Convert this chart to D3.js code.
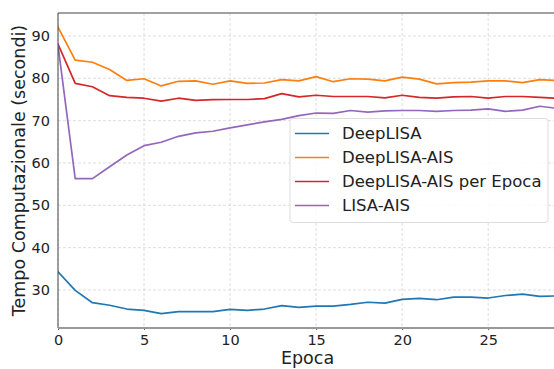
<!DOCTYPE html>
<html>
<head>
<meta charset="utf-8">
<script src="https://cdn.jsdelivr.net/npm/d3@7"></script>
<style>
  html, body { margin: 0; padding: 0; background: #fff; }
  svg { display: block; font-family: "DejaVu Sans", sans-serif; }
</style>
</head>
<body>
<svg id="chart" width="554" height="369"></svg>
<script>
// Computation time per epoch for each method
const epochs = d3.range(0, 30);
const deepLISA = [34.3, 29.9, 27.0, 26.4, 25.5, 25.2, 24.4, 24.9, 24.9, 24.9,
                  25.4, 25.2, 25.5, 26.3, 25.9, 26.2, 26.2, 26.6, 27.1, 26.9,
                  27.8, 28.0, 27.7, 28.3, 28.3, 28.1, 28.7, 29.0, 28.5, 28.6];
const deepLISAAIS = [92.1, 84.3, 83.8, 82.1, 79.5, 79.9, 78.2, 79.3, 79.4, 78.6,
                     79.4, 78.8, 78.9, 79.7, 79.4, 80.4, 79.2, 79.9, 79.8, 79.4,
                     80.3, 79.8, 78.7, 79.0, 79.1, 79.4, 79.4, 79.0, 79.7, 79.5];
const deepLISAAISEpoca = [88.1, 78.8, 78.0, 75.9, 75.5, 75.3, 74.6, 75.3, 74.8, 74.95,
                          75.0, 75.0, 75.2, 76.4, 75.6, 76.0, 75.7, 75.7, 75.7, 75.4,
                          76.0, 75.5, 75.3, 75.6, 75.7, 75.3, 75.7, 75.7, 75.5, 75.3];
const lisaAIS = [87.8, 56.3, 56.3, 59.1, 61.9, 64.1, 64.9, 66.3, 67.1, 67.5,
                 68.3, 69.0, 69.7, 70.3, 71.2, 71.8, 71.7, 72.4, 72.0, 72.3,
                 72.4, 72.4, 72.2, 72.4, 72.5, 72.8, 72.2, 72.5, 73.4, 72.9];

const seriesNames = ["DeepLISA", "DeepLISA-AIS", "DeepLISA-AIS per Epoca", "LISA-AIS"];
const seriesColors = ["#1f77b4", "#ff7f0e", "#d62728", "#9467bd"];
const xTicks = [0, 5, 10, 15, 20, 25];
const yTicks = [30, 40, 50, 60, 70, 80, 90];

const series = [deepLISA, deepLISAAIS, deepLISAAISEpoca, lisaAIS].map((vals, i) => ({
  name: seriesNames[i],
  color: seriesColors[i],
  points: vals.map((v, j) => ({ x: epochs[j], y: v }))
}));

const svg = d3.select("#chart");
const m = { left: 58, top: 13, right: 557, bottom: 328 };

const x = d3.scaleLinear().domain([0, 29]).range([m.left, m.right]);
const y = d3.scaleLinear().domain([21.02, 95.43]).range([m.bottom, m.top]);

// Grid
const grid = svg.append("g").attr("stroke", "#d6d6d6").attr("stroke-width", 0.8)
  .attr("stroke-dasharray", "3,2");
grid.selectAll(".gx").data(xTicks).join("line")
  .attr("x1", d => x(d)).attr("x2", d => x(d))
  .attr("y1", m.top).attr("y2", m.bottom);
grid.selectAll(".gy").data(yTicks).join("line")
  .attr("x1", m.left).attr("x2", m.right)
  .attr("y1", d => y(d)).attr("y2", d => y(d));

// Lines
svg.append("defs").append("clipPath").attr("id", "plotClip")
  .append("rect").attr("x", m.left).attr("y", m.top)
  .attr("width", m.right - m.left).attr("height", m.bottom - m.top);

const line = d3.line().x(d => x(d.x)).y(d => y(d.y));
svg.append("g").attr("clip-path", "url(#plotClip)")
  .selectAll("path").data(series).join("path")
  .attr("d", d => line(d.points))
  .attr("fill", "none")
  .attr("stroke", d => d.color)
  .attr("stroke-width", 1.7)
  .attr("stroke-linejoin", "round")
  .attr("stroke-linecap", "square");

// Axes
const xAxis = d3.axisBottom(x).tickValues(xTicks).tickSize(2).tickPadding(5);
const yAxis = d3.axisLeft(y).tickValues(yTicks).tickSize(0).tickPadding(8);

const gx = svg.append("g").attr("transform", `translate(0,${m.bottom})`).call(xAxis);
gx.select(".domain").remove();
gx.selectAll("line").attr("stroke", "#555");
gx.selectAll("text").attr("font-size", 14.5).attr("fill", "#222")
  .attr("font-family", "DejaVu Sans");

const gy = svg.append("g").attr("transform", `translate(${m.left},0)`).call(yAxis);
gy.select(".domain").remove();
gy.selectAll("text").attr("font-size", 14.5).attr("fill", "#222")
  .attr("font-family", "DejaVu Sans");

// Spines
svg.append("line").attr("x1", m.left).attr("x2", m.right).attr("y1", m.top).attr("y2", m.top)
  .attr("stroke", "#444").attr("stroke-width", 1);
svg.append("line").attr("x1", m.left).attr("x2", m.left).attr("y1", m.top).attr("y2", m.bottom)
  .attr("stroke", "#444").attr("stroke-width", 1);
svg.append("line").attr("x1", m.left).attr("x2", m.right).attr("y1", m.bottom).attr("y2", m.bottom)
  .attr("stroke", "#999").attr("stroke-width", 2);

// Axis titles
svg.append("text").attr("x", (m.left + m.right) / 2).attr("y", 364)
  .attr("text-anchor", "middle").attr("font-size", 17.5).attr("fill", "#222")
  .text("Epoca");
svg.append("text")
  .attr("transform", `translate(25,${(m.top + m.bottom) / 2}) rotate(-90)`)
  .attr("text-anchor", "middle").attr("font-size", 17.5).attr("fill", "#222")
  .text("Tempo Computazionale (secondi)");

// Legend
const lg = svg.append("g");
lg.append("rect").attr("x", 290).attr("y", 118.5).attr("width", 258).attr("height", 104)
  .attr("rx", 3).attr("fill", "#fff").attr("fill-opacity", 0.85)
  .attr("stroke", "#ddd").attr("stroke-width", 1);
const rows = lg.selectAll(".row").data(series).join("g")
  .attr("transform", (d, i) => `translate(0,${133.5 + i * 24})`);
rows.append("line").attr("x1", 295).attr("x2", 329).attr("y1", 0).attr("y2", 0)
  .attr("stroke", d => d.color).attr("stroke-width", 1.7);
rows.append("text").attr("x", 342).attr("y", 0).attr("dy", "0.36em")
  .attr("font-size", 16.5).attr("fill", "#222").text(d => d.name);
</script>
</body>
</html>
